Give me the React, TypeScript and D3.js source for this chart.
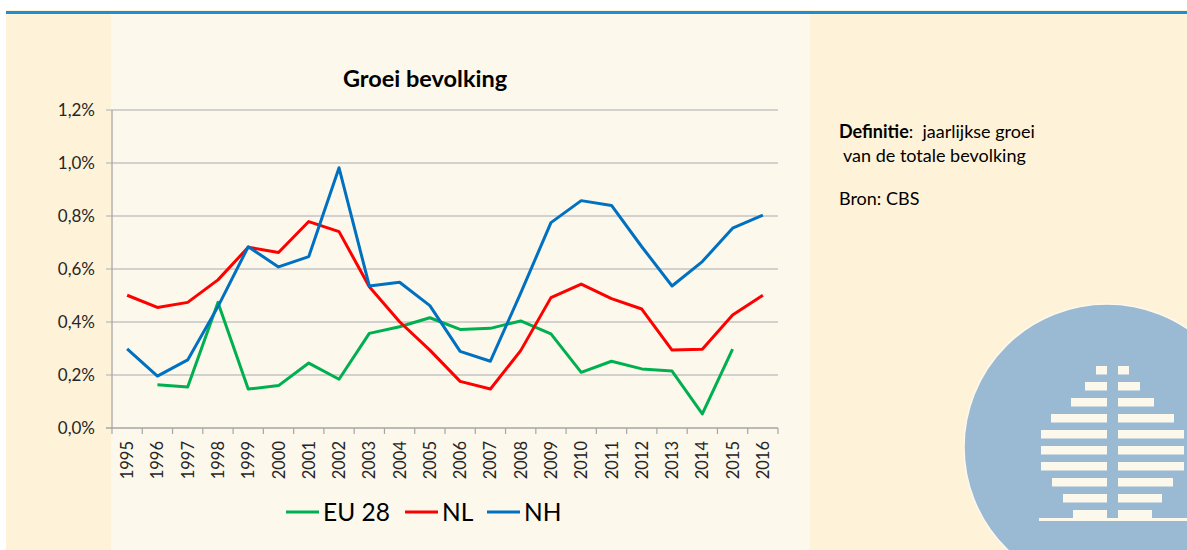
import React, { useEffect } from "react";
import * as d3 from "d3";

const years = ["1995","1996","1997","1998","1999","2000","2001","2002","2003","2004","2005","2006","2007","2008","2009","2010","2011","2012","2013","2014","2015","2016"];
const eu28: (number | null)[] = [null,0.163,0.155,0.474,0.147,0.160,0.245,0.184,0.357,0.382,0.416,0.372,0.376,0.404,0.355,0.210,0.252,0.223,0.215,0.053,0.298,null];
const nl: (number | null)[] = [0.501,0.455,0.474,0.559,0.682,0.662,0.779,0.741,0.533,0.401,0.294,0.176,0.147,0.292,0.492,0.543,0.488,0.449,0.294,0.297,0.426,0.501];
const nh: (number | null)[] = [0.299,0.196,0.257,0.458,0.684,0.608,0.647,0.982,0.536,0.550,0.462,0.289,0.252,0.509,0.775,0.858,0.840,0.684,0.536,0.628,0.754,0.803];
const yTicks = [0, 0.2, 0.4, 0.6, 0.8, 1.0, 1.2];
const seriesNames = ["EU 28", "NL", "NH"];
const seriesColors = ["#00b050", "#ff0000", "#0070c0"];
const title = "Groei bevolking";
const logoLeft = [11, 22, 36, 56, 66, 66, 66, 55, 44, 34];
const logoRight = [11, 22, 36, 56, 66, 66, 66, 55, 44, 34];

const FONT = "Lato, 'Open Sans', sans-serif";

export default function App() {
  useEffect(() => {
    document.body.style.margin = "0";
  }, []);

  const x0 = 112, x1 = 778, yTop = 110, yBot = 428;
  const xBand = d3.scaleBand<string>().domain(years).range([x0, x1]);
  const y = d3.scaleLinear().domain([0, 1.2]).range([yBot, yTop]);
  const xc = (i: number) => (xBand(years[i]) as number) + xBand.bandwidth() / 2;
  const line = d3
    .line<number | null>()
    .defined((d) => d !== null)
    .x((_, i) => xc(i))
    .y((d) => y(d as number));
  const series = [eu28, nl, nh];
  const fmt = (v: number) => v.toFixed(1).replace(".", ",") + "%";

  // logo
  const lcx = 1107, lcy = 447, lr = 143;
  const spineL = 1107, spineR = 1118;
  const rowY = d3.range(10).map((i) => 366 + i * 16);

  const legendX = [286, 405, 487];

  return (
    <svg width={1187} height={550} style={{ display: "block", position: "absolute", left: 0, top: 0 }} fontFamily={FONT}>
      <rect x={0} y={0} width={1187} height={550} fill="#ffffff" />
      <rect x={6} y={10} width={1181} height={540} fill="#fef3d9" />
      <rect x={111} y={14} width={699} height={536} fill="#fdf8ec" />
      <rect x={6} y={11} width={1181} height={3} fill="#1a8fd6" />

      {/* gridlines */}
      {yTicks.map((t) => (
        <g key={t}>
          <line x1={x0 - 6} x2={x1} y1={y(t)} y2={y(t)} stroke={t === 0 ? "#a6a6a6" : "#c4c4c4"} strokeWidth={1.3} />
          <text x={95} y={y(t) + 6} textAnchor="end" fontSize={17} fill="#262626">{fmt(t)}</text>
        </g>
      ))}
      <line x1={x0} x2={x0} y1={yTop} y2={yBot} stroke="#a6a6a6" strokeWidth={1.3} />
      {years.map((yr) => (
        <line key={"t" + yr} x1={(xBand(yr) as number)} x2={(xBand(yr) as number)} y1={yBot} y2={yBot + 6} stroke="#a6a6a6" strokeWidth={1.2} />
      ))}
      <line x1={x1} x2={x1} y1={yBot} y2={yBot + 6} stroke="#a6a6a6" strokeWidth={1.2} />
      {years.map((yr, i) => (
        <text key={"l" + yr} transform={`translate(${xc(i) + 6},${441}) rotate(-90)`} textAnchor="end" fontSize={16.5} fill="#262626">{yr}</text>
      ))}

      {series.map((s, k) => (
        <path key={k} d={line(s) || ""} fill="none" stroke={seriesColors[k]} strokeWidth={3} strokeLinejoin="round" />
      ))}

      <text x={425} y={87} textAnchor="middle" fontSize={23.5} fontWeight="bold" fill="#000">{title}</text>

      {seriesNames.map((n, k) => (
        <g key={n}>
          <line x1={legendX[k]} x2={legendX[k] + 33} y1={512} y2={512} stroke={seriesColors[k]} strokeWidth={3} />
          <text x={legendX[k] + 37} y={521} fontSize={24.5} fill="#000">{n}</text>
        </g>
      ))}

      <text x={839} y={138} fontSize={18} fill="#000" style={{ whiteSpace: "pre" }}>
        <tspan fontWeight="bold">Definitie</tspan>
        <tspan>{":\u00a0 jaarlijkse groei"}</tspan>
      </text>
      <text x={843} y={162} fontSize={18} fill="#000">van de totale bevolking</text>
      <text x={839} y={205} fontSize={18} fill="#000">Bron: CBS</text>

      <circle cx={lcx} cy={lcy} r={lr} fill="#9ab9d3" stroke="#fdf8ec" strokeWidth={1.5} />
      {rowY.map((ry, i) => (
        <g key={"r" + i}>
          <rect x={spineL - logoLeft[i]} y={ry} width={logoLeft[i]} height={8.5} fill="#fdf8ec" />
          <rect x={spineR} y={ry} width={logoRight[i]} height={8.5} fill="#fdf8ec" />
        </g>
      ))}
      <rect x={1039} y={518} width={150} height={3} fill="#fdf8ec" />
    </svg>
  );
}
